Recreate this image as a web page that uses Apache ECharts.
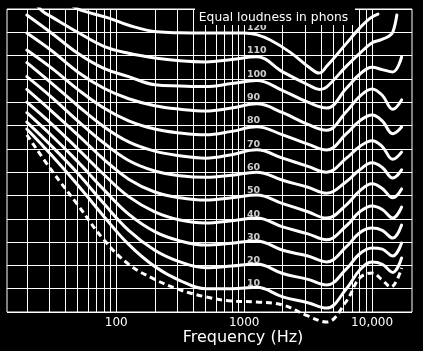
<!DOCTYPE html>
<html><head><meta charset="utf-8">
<script src="https://cdn.jsdelivr.net/npm/echarts@6/dist/echarts.min.js"></script>
<style>html,body{margin:0;padding:0;background:#000;}#c{width:423px;height:351px;}</style>
</head><body><div id="c"></div>
<script>
// Phon levels of the labelled contours
const phonLevels = [120, 110, 100, 90, 80, 70, 60, 50, 40, 30, 20, 10];

// Each contour: [frequency Hz, sound level dB]
const phon120 = [[45,131.5],[52,129.6],[89,126],[125,123],[208,120.2],[315,119.8],[500,119.7],[1000,119.7],[1250,119],[1600,116.7],[2280,111.5],[3270,104.7],[3840,102.5],[4430,105.5],[6130,114.5],[8050,122],[9620,126],[11100,127.8]];
const phon110 = [[24,131.5],[27,128.7],[31.5,126.5],[50,120],[80,114],[125,111],[200,109],[315,107.8],[500,107.3],[800,108.3],[1250,109.5],[2000,103],[3150,97.5],[3900,95.5],[4400,96.5],[6300,105.5],[8000,111],[10000,115.5],[11600,116.7],[13500,118.3],[14500,120],[15600,127.4]];
const phon100 = [[20,127.4],[31.5,119.5],[50,111],[80,104.5],[125,101],[200,97.5],[315,97],[500,96.7],[800,98],[1250,99.3],[2000,95],[3150,90],[4400,87.5],[6300,96],[8000,102],[10000,105],[12000,104],[14500,103],[17000,109.4]];
const phon90 = [[20,119.7],[31.5,112],[50,103],[80,96],[125,91.5],[200,88.5],[315,87],[500,86.2],[800,87.5],[1250,89.3],[2000,85.5],[3150,80.5],[4400,78],[6300,86],[8000,92.5],[10000,95.7],[12000,93],[14500,87],[17000,91]];
const phon80 = [[20,112.4],[31.5,104.5],[50,95.5],[80,87.5],[125,82],[200,78.5],[315,76.8],[500,76],[800,77.5],[1250,79.5],[2000,76],[3150,72],[4400,69.5],[6300,76.5],[8000,82],[10000,84.5],[12000,82],[14500,76.5],[17000,79.4]];
const phon70 = [[20,107],[31.5,98],[50,88.5],[80,79.5],[125,73],[200,69],[315,67],[500,66],[800,67.5],[1250,69.6],[2000,66],[3150,62.5],[4400,60],[6300,66],[8000,71],[10000,73.5],[12000,71],[14500,65.5],[17000,68.6]];
const phon60 = [[20,101],[31.5,92],[50,82],[80,72.5],[125,65],[200,60.5],[315,58.5],[500,57.8],[800,58.7],[1250,60],[2000,56.5],[3150,53.5],[4400,51],[6300,56],[8000,61],[10000,64],[12000,62],[14500,57.5],[17000,61]];
const phon50 = [[20,95.5],[31.5,86],[50,76],[80,65.5],[125,57],[200,51.5],[315,49],[500,48],[800,49],[1250,50.2],[2000,46.5],[3150,43],[4400,40.3],[6300,46],[8000,52],[10000,55],[12000,53],[14500,49],[17000,52.8]];
const phon40 = [[20,90],[31.5,80.5],[50,70],[80,59],[125,49.5],[200,43],[315,39.5],[500,38.2],[800,39.2],[1250,40.3],[2000,36.5],[3150,33.5],[4400,31],[6300,37],[8000,43],[10000,45.5],[12000,44],[14500,40.3],[17000,45]];
const phon30 = [[20,85.5],[31.5,75.5],[50,64.5],[80,52.5],[125,42],[200,34.5],[315,30.5],[500,28.7],[800,29.5],[1250,30.5],[2000,26.5],[3150,24],[4400,21.5],[6300,28],[8000,34],[10000,36],[12000,35],[14500,31.7],[17000,37.3]];
const phon20 = [[20,81.5],[31.5,71],[50,59.5],[80,46.5],[125,35],[200,26.5],[315,21.5],[500,19],[800,19.7],[1250,20.6],[2000,16.5],[3150,14],[4400,11.6],[6300,18.5],[8000,25],[10000,27.5],[12000,27],[14500,24],[17000,29.6]];
const phon10 = [[20,78.5],[31.5,67],[50,54.5],[80,41],[125,29],[200,19.5],[315,13.5],[500,10],[800,10],[1250,10.6],[2000,6.5],[3150,4],[4400,1.7],[6300,10],[8000,18],[10000,21.5],[12000,20.5],[14500,17],[17000,23.2]];
// Threshold of hearing (dashed)
const threshold = [[20,76],[31.5,60.5],[50,46],[80,31],[125,20.5],[200,14],[315,9.5],[500,6.5],[800,4.7],[1250,4.3],[2000,3],[3150,-1.7],[4400,-4.3],[6300,4.7],[8000,14.6],[10000,16.7],[12000,13.7],[14000,10.7],[17000,18.9]];

// Frequencies of the vertical grid lines
const gridFreqs = [20,30,40,50,60,70,80,90,100,200,300,400,500,600,700,800,900,1000,2000,3000,4000,5000,6000,7000,8000,9000,10000];
// x tick labels
const xTickLabels = {100: '100', 1000: '1000', 10000: '10,000'};
const titleText = 'Equal loudness in phons';
const xAxisTitle = 'Frequency (Hz)';

const curves = [phon120, phon110, phon100, phon90, phon80, phon70, phon60, phon50, phon40, phon30, phon20, phon10];

const chart = echarts.init(document.getElementById('c'), null, {renderer: 'canvas'});
const FONT = 'DejaVu Sans';

const series = [];
series.push({
  type: 'line', data: [], z: 1, silent: true,
  markLine: {
    silent: true, symbol: ['none', 'none'], animation: false,
    label: {show: false},
    lineStyle: {color: '#fff', width: 1, type: 'solid'},
    data: gridFreqs.map(f => ({xAxis: f}))
  }
});
curves.forEach((c, i) => {
  series.push({
    type: 'line', name: String(phonLevels[i]), data: c, showSymbol: false,
    smooth: 0.4, clip: true, z: 3, silent: true,
    lineStyle: {color: '#fff', width: 3, cap: 'round', join: 'round'}
  });
});
series.push({
  type: 'line', name: 'threshold', data: threshold, showSymbol: false,
  smooth: 0.4, clip: false, z: 3, silent: true,
  lineStyle: {color: '#fff', width: 3, type: [6, 4]}
});
series.push({
  type: 'scatter', symbolSize: 0, z: 4, silent: true,
  data: phonLevels.map(p => ({name: String(p), value: [1050, p + 2]})),
  label: {show: true, position: 'right', distance: 0, formatter: '{b}',
          color: '#fff', fontFamily: FONT, fontSize: 9.5, fontWeight: 'bold'}
});

chart.setOption({
  animation: false,
  backgroundColor: '#000',
  grid: {left: 7, right: 11, top: 9, bottom: 39, show: true, borderColor: '#fff', borderWidth: 1, backgroundColor: 'transparent'},
  xAxis: {
    type: 'log', logBase: 10, min: 14, max: 20500,
    axisLine: {show: false}, axisTick: {show: false}, splitLine: {show: false},
    axisLabel: {
      show: true, color: '#fff', fontFamily: FONT, fontSize: 12, margin: 5,
      showMinLabel: true, showMaxLabel: true, hideOverlap: false,
      formatter: v => xTickLabels[Math.round(v)] || ''
    }
  },
  yAxis: {
    type: 'value', min: 0, max: 130, interval: 10,
    axisLine: {show: false}, axisTick: {show: false}, axisLabel: {show: false},
    splitLine: {show: true, lineStyle: {color: '#fff', width: 1}}
  },
  graphic: [
    {type: 'rect', z: 50, shape: {x: 195, y: 0, width: 160, height: 25}, style: {fill: '#000'}},
    {type: 'text', z: 51, x: 273.5, y: 18, style: {text: titleText, fill: '#fff', font: '12.3px "DejaVu Sans"', align: 'center', verticalAlign: 'middle'}},
    {type: 'text', z: 51, x: 243, y: 338, style: {text: xAxisTitle, fill: '#fff', font: '16px "DejaVu Sans"', align: 'center', verticalAlign: 'middle'}}
  ],
  series: series
});
</script></body></html>
